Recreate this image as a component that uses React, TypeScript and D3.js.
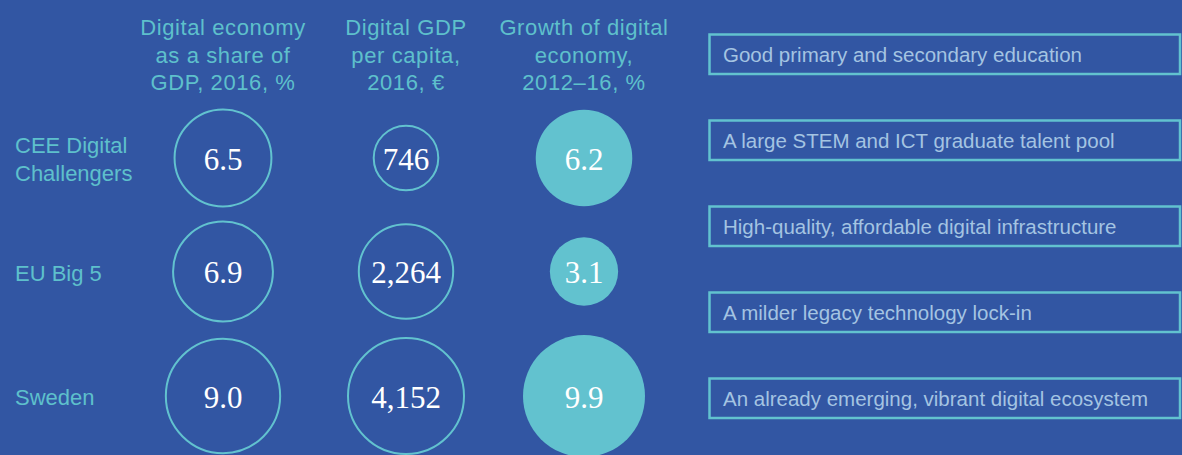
import React from "react";
import * as d3 from "d3";

const regions = ["CEE Digital|Challengers", "EU Big 5", "Sweden"];
const shareOfGDP = [6.5, 6.9, 9.0];
const gdpPerCapita = [746, 2264, 4152];
const growth = [6.2, 3.1, 9.9];
const headers = [
  ["Digital economy", "as a share of", "GDP, 2016, %"],
  ["Digital GDP", "per capita,", "2016, €"],
  ["Growth of digital", "economy,", "2012–16, %"],
];
const factors = [
  "Good primary and secondary education",
  "A large STEM and ICT graduate talent pool",
  "High-quality, affordable digital infrastructure",
  "A milder legacy technology lock-in",
  "An already emerging, vibrant digital ecosystem",
];

const W = 1182;
const H = 455;
const BG = "#3256a3";
const TEAL = "#62c2cf";
const HEAD = "#5ec0cc";
const BOXTEXT = "#a4c4e2";
const SANS = "'Liberation Sans', Arial, Helvetica, sans-serif";
const SERIF = "'Liberation Serif', 'Times New Roman', serif";

export default function App() {
  const rowY = d3.scaleOrdinal<string, number>().domain(regions).range([158, 271.5, 396]);
  const colX = d3.scaleOrdinal<number, number>().domain([0, 1, 2]).range([223, 406, 584]);
  const pctR = d3.scaleSqrt().domain([0, d3.max([...shareOfGDP, ...growth]) as number]).range([0, 61]);
  const eurR = d3.scalePow().exponent(1 / 3).domain([0, d3.max(gdpPerCapita) as number]).range([0, 59]);
  const boxY = d3.scaleBand<number>().domain(d3.range(factors.length)).range([34.5, 34.5 + 86 * factors.length]).paddingInner(0);
  const fmtPct = d3.format(".1f");
  const fmtEur = d3.format(",");

  const cols = [
    { values: shareOfGDP, r: pctR, fmt: fmtPct, filled: false },
    { values: gdpPerCapita, r: eurR, fmt: fmtEur, filled: false },
    { values: growth, r: pctR, fmt: fmtPct, filled: true },
  ];

  return (
    <svg width={W} height={H} style={{ display: "block", position: "absolute", left: 0, top: 0 }}>
      <rect x={0} y={0} width={W} height={H} fill={BG} />
      {headers.map((lines, ci) => (
        <text key={ci} x={colX(ci)} textAnchor="middle" fontFamily={SANS} fontSize={22} fill={HEAD} letterSpacing={0.6}>
          {lines.map((l, li) => (
            <tspan key={li} x={colX(ci)} y={35 + li * 27.5}>{l}</tspan>
          ))}
        </text>
      ))}
      {regions.map((reg) => {
        const lines = reg.split("|");
        const cy = rowY(reg);
        const first = cy + 9 - ((lines.length - 1) * 28.5) / 2;
        return (
          <text key={reg} fontFamily={SANS} fontSize={22} fill={HEAD}>
            {lines.map((l, li) => (
              <tspan key={li} x={15} y={first + li * 28.5}>{l}</tspan>
            ))}
          </text>
        );
      })}
      {cols.map((c, ci) =>
        regions.map((reg, ri) => {
          const v = c.values[ri];
          const cx = colX(ci);
          const cy = rowY(reg);
          return (
            <g key={`${ci}-${ri}`}>
              <circle
                cx={cx}
                cy={cy}
                r={c.filled ? c.r(v) : c.r(v) - 1}
                fill={c.filled ? TEAL : "none"}
                stroke={c.filled ? "none" : TEAL}
                strokeWidth={2}
              />
              <text x={cx} y={cy + 11.5} textAnchor="middle" fontFamily={SERIF} fontSize={31} fill="#ffffff">
                {c.fmt(v)}
              </text>
            </g>
          );
        })
      )}
      {factors.map((f, i) => (
        <g key={i}>
          <rect x={709.5} y={boxY(i)} width={470.5} height={39.5} fill="none" stroke={TEAL} strokeWidth={2.5} />
          <text x={723} y={(boxY(i) as number) + 27.5} fontFamily={SANS} fontSize={20.5} fill={BOXTEXT}>
            {f}
          </text>
        </g>
      ))}
    </svg>
  );
}
